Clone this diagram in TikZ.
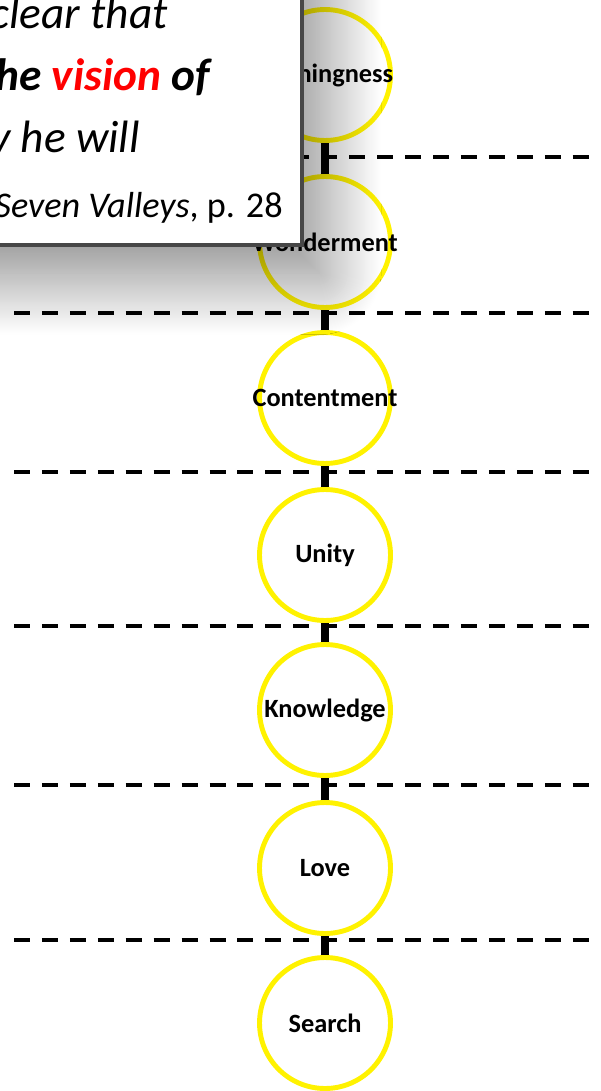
\documentclass[tikz,border=0pt]{standalone}
\usepackage{fontspec}
\setmainfont{Carlito}
\usetikzlibrary{shadows.blur}

\begin{document}
\begin{tikzpicture}[x=0.02cm, y=-0.02cm,
    valley/.style={circle, draw=yellow, line width=2.8pt, minimum size=2.62cm,
      inner sep=0pt, outer sep=1.4pt, font=\fontsize{15}{18}\selectfont\bfseries},
    link/.style={line width=4pt},
    divide/.style={line width=2.3pt, dash pattern=on 9.1pt off 6.8pt},
    quotebox/.style={fill=white, draw=black!72, line width=2.6pt,
      blur shadow={shadow xshift=10pt, shadow yshift=-16pt,
        shadow blur radius=35pt, shadow blur steps=60, shadow opacity=50}},
    quotetext/.style={inner sep=0pt, anchor=base east,
      font=\fontsize{25.8}{31}\selectfont}]
      \useasboundingbox (0,0) rectangle (600,1091);
      \clip (0,0) rectangle (600,1091);

      % stage dividers
      \foreach \y in {157,313,472,626,785,940}
        \draw [divide] (14,\y) -- (620,\y);

      \node[valley] (NothingN) at (325,75)   {\makebox[0pt]{Nothingness}};
      \node[valley] (WonderN)  at (325,242)  {\makebox[0pt]{Wonderment}};
      \node[valley] (ContentN) at (325,398)  {\makebox[0pt]{Contentment}};
      \node[valley] (UnityN)   at (325,555)  {\makebox[0pt]{Unity}};
      \node[valley] (KnowN)    at (325,710)  {\makebox[0pt]{Knowledge}};
      \node[valley] (LoveN)    at (325,868)  {\makebox[0pt]{Love}};
      \node[valley] (SearchN)  at (325,1023) {\makebox[0pt]{Search}};

      \draw [link] (SearchN.north)  -- (LoveN.south);
      \draw [link] (LoveN.north)    -- (KnowN.south);
      \draw [link] (KnowN.north)    -- (UnityN.south);
      \draw [link] (UnityN.north)   -- (ContentN.south);
      \draw [link] (ContentN.north) -- (WonderN.south);
      \draw [link] (WonderN.north)  -- (NothingN.south);

      % quotation
      \draw [quotebox] (-40,-40) rectangle (302,245);
      \node[quotetext] (LineA) at (168,29)  {\itshape clear that};
      \node[quotetext] (LineB) at (210,91)  {\bfseries\itshape he \textcolor{red}{vision} of};
      \node[quotetext] (LineC) at (140,153) {\itshape y he will};
      \node[quotetext, font=\fontsize{20.6}{24}\selectfont]
                       (RefN)  at (283,217) {\textit{Seven Valleys}, p. 28};
    \end{tikzpicture}
\end{document}
